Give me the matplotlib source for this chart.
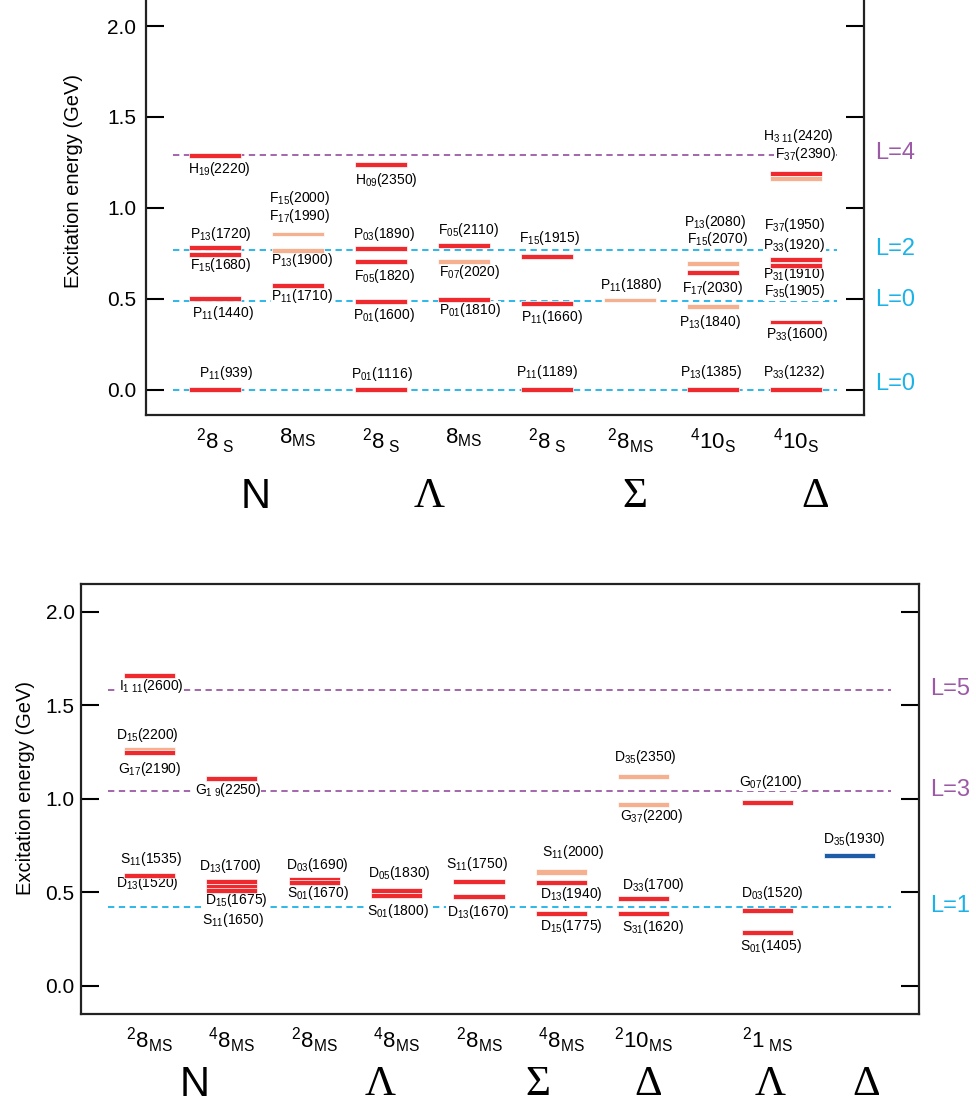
import matplotlib
matplotlib.use("Agg")
import matplotlib.pyplot as plt
from matplotlib import transforms

plt.rcParams["font.family"] = ["Liberation Sans", "DejaVu Sans"]
plt.rcParams["mathtext.fontset"] = "custom"
plt.rcParams["mathtext.rm"] = "Liberation Sans"
plt.rcParams["mathtext.it"] = "Liberation Sans:italic"
plt.rcParams["mathtext.bf"] = "Liberation Sans:bold"

COLORS = {"r": "#ee2a2e", "s": "#f5b090", "b": "#1f5ca8"}
PURPLE = "#9c5aa6"
CYAN = "#1bb2e8"

# ---------------- upper panel (even parity) ----------------
top_groups = [r"$\mathregular{^{2}8_{\ S}}$", r"$\mathregular{8_{MS}}$",
              r"$\mathregular{^{2}8_{\ S}}$", r"$\mathregular{8_{MS}}$",
              r"$\mathregular{^{2}8_{\ S}}$", r"$\mathregular{^{2}8_{MS}}$",
              r"$\mathregular{^{4}10_{S}}$", r"$\mathregular{^{4}10_{S}}$"]
top_group_x = [0, 1, 2, 3, 4, 5, 6, 7]
top_family = ["N", "Λ", "Σ", "Δ"]

# visible levels: column, excitation energy (GeV), colour key
top_col = [0, 0, 0, 0, 0, 1, 1, 1, 2, 2, 2, 2, 2, 3, 3, 3, 4, 4, 4, 5,
           6, 6, 6, 6, 7, 7, 7, 7, 7, 7]
top_E = [1.29, 0.782, 0.743, 0.503, 0.0, 0.857, 0.765, 0.573,
         1.237, 0.778, 0.705, 0.486, 0.0, 0.795, 0.705, 0.496,
         0.731, 0.475, 0.0, 0.494,
         0.694, 0.646, 0.457, 0.0,
         1.189, 1.162, 0.717, 0.686, 0.373, 0.0]
top_kind = ["r", "r", "r", "r", "r", "s", "s", "r",
            "r", "r", "r", "r", "r", "r", "s", "r",
            "r", "r", "r", "s",
            "s", "r", "s", "r",
            "r", "s", "r", "r", "r", "r"]

top_names = ["H_{19}(2220)", "P_{13}(1720)", "F_{15}(1680)", "P_{11}(1440)", "P_{11}(939)",
             "F_{15}(2000)", "F_{17}(1990)", "P_{13}(1900)", "P_{11}(1710)",
             "H_{09}(2350)", "P_{03}(1890)", "F_{05}(1820)", "P_{01}(1600)", "P_{01}(1116)",
             "F_{05}(2110)", "F_{07}(2020)", "P_{01}(1810)",
             "F_{15}(1915)", "P_{11}(1660)", "P_{11}(1189)",
             "P_{11}(1880)",
             "P_{13}(2080)", "F_{15}(2070)", "F_{17}(2030)", "P_{13}(1840)", "P_{13}(1385)",
             "H_{3\\ 11}(2420)", "F_{37}(2390)", "F_{37}(1950)", "P_{33}(1920)",
             "P_{31}(1910)", "F_{35}(1905)", "P_{33}(1600)", "P_{33}(1232)"]
# label placement (column units, GeV)
top_name_x = [0.05, 0.07, 0.07, 0.10, 0.14,
              1.02, 1.02, 1.05, 1.05,
              2.07, 2.04, 2.04, 2.04, 2.01,
              3.05, 3.07, 3.07,
              4.03, 4.06, 4.00,
              5.01,
              6.02, 6.05, 6.00, 5.96, 5.98,
              7.03, 7.11, 6.98, 6.98, 6.98, 6.98, 7.01, 6.98]
top_name_y = [1.215, 0.857, 0.688, 0.422, 0.092,
              1.056, 0.954, 0.712, 0.514,
              1.151, 0.857, 0.628, 0.413, 0.088,
              0.881, 0.646, 0.437,
              0.833, 0.398, 0.101,
              0.578,
              0.923, 0.831, 0.560, 0.373, 0.101,
              1.395, 1.294, 0.909, 0.798, 0.637, 0.541, 0.307, 0.101]

top_L_text = ["L=4", "L=2", "L=0", "L=0"]
top_L_E = [1.29, 0.767, 0.488, 0.0]
top_L_color = [PURPLE, CYAN, CYAN, CYAN]
top_L_dy = [1.5, 1.0, 0.5, 4.0]

# ---------------- lower panel (odd parity) ----------------
bot_groups = [r"$\mathregular{^{2}8_{MS}}$", r"$\mathregular{^{4}8_{MS}}$",
              r"$\mathregular{^{2}8_{MS}}$", r"$\mathregular{^{4}8_{MS}}$",
              r"$\mathregular{^{2}8_{MS}}$", r"$\mathregular{^{4}8_{MS}}$",
              r"$\mathregular{^{2}10_{MS}}$", r"$\mathregular{^{2}1_{\ MS}}$"]
bot_group_x = [0, 1, 2, 3, 4, 5, 6, 7.5]
bot_family = ["N", "Λ", "Σ", "Δ", "Λ", "Δ"]

bot_col = [0, 0, 0, 0, 1, 1, 1, 1, 2, 2, 3, 3, 4, 4, 5, 5, 5,
           6, 6, 6, 6, 7.5, 7.5, 7.5, 8.5]
bot_E = [1.657, 1.262, 1.250, 0.589,
         1.109, 0.558, 0.533, 0.510,
         0.570, 0.552,
         0.510, 0.483,
         0.559, 0.477,
         0.609, 0.552, 0.386,
         1.118, 0.968, 0.466, 0.386,
         0.982, 0.402, 0.287,
         0.699]
bot_kind = ["r", "s", "r", "r",
            "r", "r", "r", "r",
            "r", "r",
            "r", "r",
            "r", "r",
            "s", "r", "r",
            "s", "s", "r", "r",
            "r", "r", "r",
            "b"]

bot_names = ["I_{1\\ 11}(2600)", "D_{15}(2200)", "G_{17}(2190)", "S_{11}(1535)", "D_{13}(1520)",
             "G_{1\\ 9}(2250)", "D_{13}(1700)", "D_{15}(1675)", "S_{11}(1650)",
             "D_{03}(1690)", "S_{01}(1670)",
             "D_{05}(1830)", "S_{01}(1800)",
             "S_{11}(1750)", "D_{13}(1670)",
             "S_{11}(2000)", "D_{13}(1940)", "D_{15}(1775)",
             "D_{35}(2350)", "G_{37}(2200)", "D_{33}(1700)", "S_{31}(1620)",
             "G_{07}(2100)", "D_{03}(1520)", "S_{01}(1405)",
             "D_{35}(1930)"]
bot_name_x = [0.02, -0.03, 0.00, 0.02, -0.03,
              0.95, 0.98, 1.05, 1.01,
              2.04, 2.04,
              3.03, 3.02,
              3.97, 3.99,
              5.14, 5.12, 5.12,
              6.02, 6.09, 6.11, 6.11,
              7.54, 7.56, 7.54,
              8.55]
bot_name_y = [1.602, 1.340, 1.159, 0.678, 0.548,
              1.046, 0.641, 0.459, 0.352,
              0.646, 0.498,
              0.602, 0.402,
              0.651, 0.397,
              0.717, 0.490, 0.320,
              1.221, 0.909, 0.539, 0.317,
              1.091, 0.498, 0.214,
              0.783]

bot_L_text = ["L=5", "L=3", "L=1"]
bot_L_E = [1.58, 1.043, 0.42]
bot_L_color = [PURPLE, PURPLE, CYAN]
bot_L_dy = [1.0, 0.5, 1.0]


def level_label(s):
    head, tail = s.split("(")
    return r"$\mathregular{" + head + "}$(" + tail


def draw_panel(ax, cols, E, kinds, names, nx, ny, L_text, L_E, L_col, L_dy,
               line_span, groups, group_x, family, family_x, family_y):
    # dashed harmonic-oscillator shells
    for t, e, c, dy in zip(L_text, L_E, L_col, L_dy):
        ax.hlines(e, line_span[0], line_span[1], colors=c, lw=1.3,
                  linestyles=(0, (3.5, 2.5)), zorder=1)
        ax.annotate(t, xy=(1.0, e), xycoords=ax.get_yaxis_transform(),
                    xytext=(8, dy), textcoords="offset points",
                    color=c, fontsize=17, va="center", ha="left",
                    annotation_clip=False)
    # levels, highest first so lower bars show a white seam on top
    order = sorted(range(len(cols)), key=lambda i: -E[i])
    for i in order:
        ax.barh(E[i], 0.62, height=0.027, left=cols[i] - 0.31,
                color=COLORS[kinds[i]], edgecolor="white", linewidth=0.5,
                zorder=3)
    for s, x, y in zip(names, nx, ny):
        ax.text(x, y, level_label(s), fontsize=10, ha="center", va="center",
                zorder=2, bbox=dict(fc="white", ec="none", pad=0.3))
    ax.set_xticks(group_x, groups, fontsize=16)
    ax.tick_params(axis="x", length=0, pad=8)
    trans = transforms.blended_transform_factory(ax.transData, ax.transAxes)
    for f, x in zip(family, family_x):
        fam = ["Liberation Sans"] if f == "N" else ["Liberation Serif", "DejaVu Serif"]
        ax.text(x, family_y, f, transform=trans, fontsize=30 if f == "N" else 31,
                family=fam, ha="center", va="center", clip_on=False)
    ax.set_yticks([0, 0.5, 1.0, 1.5, 2.0], ["0.0", "0.5", "1.0", "1.5", "2.0"])
    ax.tick_params(axis="y", direction="in", length=13, width=1.5,
                   labelsize=15, right=True)
    for sp in ax.spines.values():
        sp.set_linewidth(1.6)
        sp.set_color("#222222")
    ax.set_ylabel("Excitation energy (GeV)", fontsize=14.5)


fig = plt.figure(figsize=(9.76, 11.04), dpi=100)

ax1 = fig.add_axes([146 / 976, 1 - 415 / 1104, 718 / 976, 415 / 1104])
ax1.set_xlim(-0.83, 7.82)
ax1.set_ylim(-0.138, 2.143)
draw_panel(ax1, top_col, top_E, top_kind, top_names, top_name_x, top_name_y,
           top_L_text, top_L_E, top_L_color, top_L_dy, (-0.5, 7.5),
           top_groups, top_group_x, top_family, [0.49, 2.58, 5.06, 7.23], -0.198)
ax1.spines["top"].set_visible(False)
ax1.tick_params(axis="y", pad=7)
ax1.yaxis.set_label_coords(-0.088, 0.563)

ax2 = fig.add_axes([81 / 976, 1 - 1014 / 1104, 838 / 976, 430 / 1104])
ax2.set_xlim(-0.83, 9.34)
ax2.set_ylim(-0.15, 2.148)
draw_panel(ax2, bot_col, bot_E, bot_kind, bot_names, bot_name_x, bot_name_y,
           bot_L_text, bot_L_E, bot_L_color, bot_L_dy, (-0.5, 9.0),
           bot_groups, bot_group_x, bot_family,
           [0.55, 2.8, 4.71, 6.05, 7.53, 8.7], -0.165)
ax2.tick_params(axis="y", pad=4.5)
ax2.yaxis.set_label_coords(-0.055, 0.526)

fig.savefig("out.png", dpi=100)
